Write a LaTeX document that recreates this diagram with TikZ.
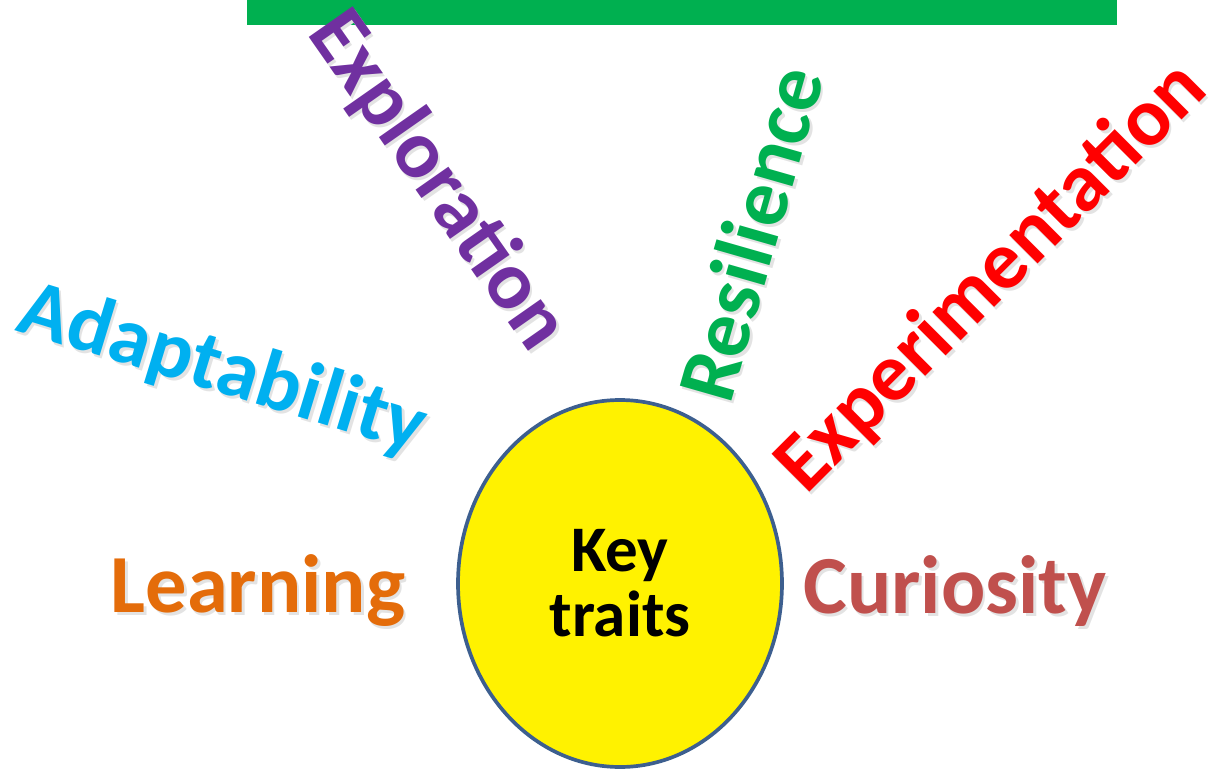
\documentclass[tikz,border=0pt]{standalone}
\usepackage{fontspec}
\setmainfont{Carlito}
\usetikzlibrary{shapes.geometric}
\definecolor{barGreen}{HTML}{00B050}
\definecolor{hubBlue}{HTML}{3D5F8F}
\definecolor{explPurple}{HTML}{7030A0}
\definecolor{resGreen}{HTML}{00B050}
\definecolor{expRed}{HTML}{FF0000}
\definecolor{adaBlue}{HTML}{00B0F0}
\definecolor{learnOrange}{HTML}{E46C0A}
\definecolor{curRed}{HTML}{C0504D}

\begin{document}
\begin{tikzpicture}[
            trait/.style={font=\fontsize{47}{56}\selectfont\bfseries, inner sep=0pt},
            shade/.style={trait, text=black!11},
            hub/.style={ellipse, draw=hubBlue, line width=2.1pt, fill=yellow, minimum width=6.48cm, minimum height=7.34cm, align=center, font=\fontsize{37}{37}\selectfont\bfseries}
        ]
            \useasboundingbox (0,0) rectangle (24.32,-15.38);
            \fill[barGreen] (4.94,0) rectangle (22.34,-0.5);
            
            \node[hub] (hub) at (12.4,-11.67) {Key\\traits};
            
            % rotated words around the hub
            \foreach \name/\x/\y/\ang/\col/\word in {
                    explore/8.74/-3.62/-55/explPurple/Exploration,
                    resil/15.0/-4.66/74/resGreen/Resilience,
                    experi/19.84/-5.56/45/expRed/Experimentation,
                    adapt/4.44/-7.4/-17/adaBlue/Adaptability}{
                \node[shade, rotate=\ang] (\name-s) at (\x+0.05,\y-0.06) {\word};
                \node[trait, rotate=\ang, text=\col] (\name) at (\x,\y) {\word};
            }
            
            \node[shade, anchor=base] (learn-s) at (5.21,-12.3) {Learning};
            \node[trait, anchor=base, text=learnOrange] (learn) at (5.16,-12.24) {Learning};
            \node[shade, anchor=base] (curio-s) at (19.15,-12.32) {Curiosity};
            \node[trait, anchor=base, text=curRed] (curio) at (19.1,-12.26) {Curiosity};
        \end{tikzpicture}
\end{document}
